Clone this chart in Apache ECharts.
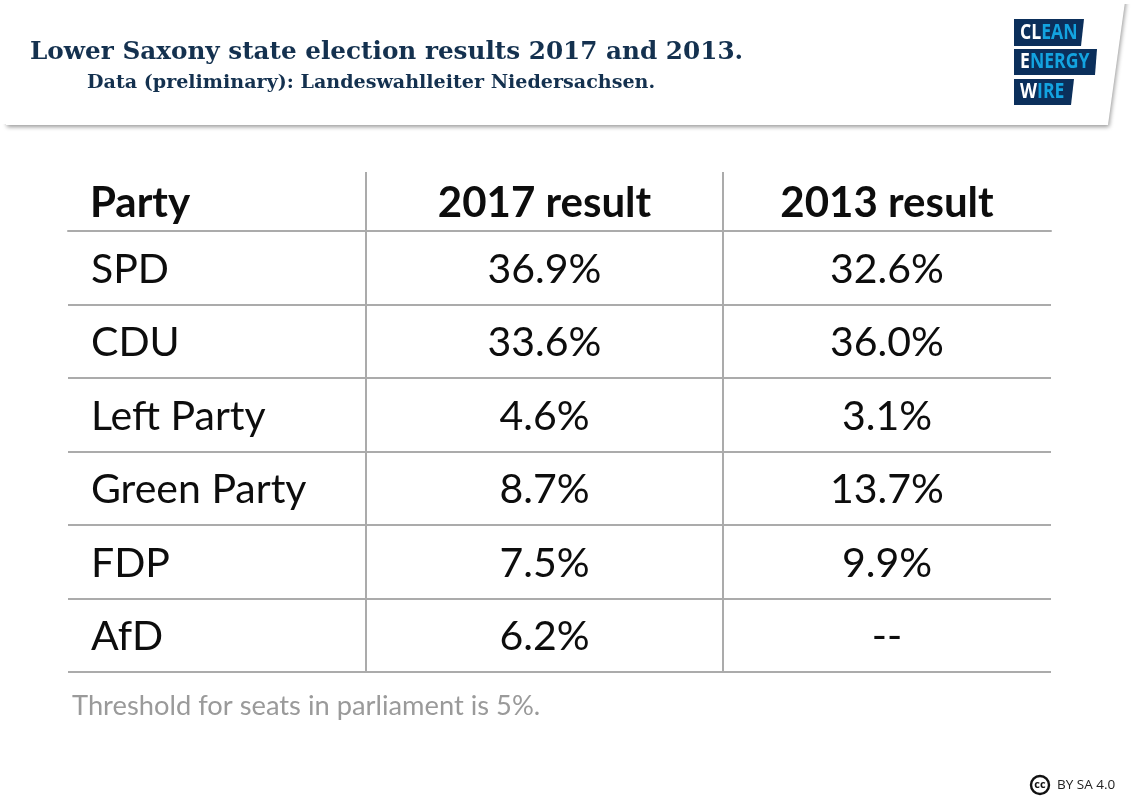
<!DOCTYPE html>
<html><head><meta charset="utf-8">
<style>html,body{margin:0;padding:0;background:#fff}#c{width:1132px;height:800px}</style>
<script src="https://cdn.jsdelivr.net/npm/echarts@6/dist/echarts.min.js"></script>
</head><body><div id="c"></div>
<script>
const titleText = 'Lower Saxony state election results 2017 and 2013.';
const subtitleText = 'Data (preliminary): Landeswahlleiter Niedersachsen.';
const noteText = 'Threshold for seats in parliament is 5%.';
const licenseText = 'BY SA 4.0';
const columns = ['Party', '2017 result', '2013 result'];
const parties = ['SPD', 'CDU', 'Left Party', 'Green Party', 'FDP', 'AfD'];
const results2017 = [36.9, 33.6, 4.6, 8.7, 7.5, 6.2];
const results2013 = [32.6, 36.0, 3.1, 13.7, 9.9, null];

const LINE = '#ababab', FONT = 'Lato', INK = '#0d0d0d';
const gridTop = 231, gridBottom = 800 - 672;
const colEdges = [68, 366, 723, 1051];
const grids = [0, 1, 2].map(i => ({left: colEdges[i], width: colEdges[i + 1] - colEdges[i], top: gridTop, bottom: gridBottom, outerBoundsMode: 'none'}));
const xAxes = columns.map((c, i) => ({
  gridIndex: i, type: 'category', position: 'top', data: [c],
  axisTick: {show: false}, axisLine: {show: true, lineStyle: {color: LINE, width: 2}},
  axisLabel: {
    color: INK, fontFamily: FONT, fontWeight: 'bold', fontSize: 42, margin: 7,
    ...(i === 0 ? {align: 'left', padding: [0, 0, 0, -127]} : {})
  }
}));
const yAxes = columns.map((c, i) => ({
  gridIndex: i, type: 'category', inverse: true, data: parties,
  axisTick: {show: false}, axisLine: {show: false}, axisLabel: {show: false},
  splitLine: {show: true, lineStyle: {color: LINE, width: 2}}
}));
const fmt = v => v == null ? '--' : v.toFixed(1) + '%';
const labelStyle = {show: true, color: INK, fontFamily: FONT, fontSize: 41, opacity: 1};
const series = [
  {type: 'scatter', xAxisIndex: 0, yAxisIndex: 0, symbolSize: 0, silent: true, itemStyle: {opacity: 1},
   data: parties.map(p => ({value: [columns[0], p], name: p})),
   label: {...labelStyle, position: 'inside', align: 'left', offset: [-126, 2], formatter: p => p.name}},
  {type: 'scatter', xAxisIndex: 1, yAxisIndex: 1, symbolSize: 0, silent: true, itemStyle: {opacity: 1},
   data: parties.map(p => ({value: [columns[1], p]})),
   label: {...labelStyle, position: 'inside', offset: [0, 2], formatter: p => fmt(results2017[p.dataIndex])}},
  {type: 'scatter', xAxisIndex: 2, yAxisIndex: 2, symbolSize: 0, silent: true, itemStyle: {opacity: 1},
   data: parties.map(p => ({value: [columns[2], p]})),
   label: {...labelStyle, position: 'inside', offset: [0, 2], formatter: p => fmt(results2013[p.dataIndex])}}
];
const vline = x => ({type: 'line', z: 5, shape: {x1: x, y1: 172, x2: x, y2: 672}, style: {stroke: LINE, lineWidth: 2}});
const logoBar = pts => ({type: 'polygon', z: 6, shape: {points: pts}, style: {fill: '#0b2f5b'}});
const logoFont = 'bold 21px "Open Sans"';
const logoRich = {
  w: {fill: '#fff', font: logoFont},
  b: {fill: '#13a3e0', font: logoFont}
};
const logoText = (y, a, b) => ({type: 'text', z: 7, x: 1020, y, scaleX: 0.84,
  style: {text: `{w|${a}}{b|${b}}`, rich: logoRich, textVerticalAlign: 'middle'}});
const chart = echarts.init(document.getElementById('c'), null, {renderer: 'canvas'});
chart.setOption({
  backgroundColor: '#fff', animation: false,
  grid: grids, xAxis: xAxes, yAxis: yAxes, series,
  graphic: {elements: [
    {type: 'polygon', z: 1, shape: {points: [[0, -20], [1128, -20], [1108, 125], [6, 125]]},
     style: {fill: '#fff', shadowColor: 'rgba(0,0,0,0.4)', shadowBlur: 4, shadowOffsetX: 1, shadowOffsetY: 2}},
    {type: 'rect', z: 2, shape: {x: 0, y: 0, width: 6, height: 124}, style: {fill: '#fff'}},
    {type: 'rect', z: 2, shape: {x: 0, y: 0, width: 1132, height: 4}, style: {fill: '#fff'}},
    {type: 'text', z: 6, x: 30, y: 53, style: {text: titleText, fill: '#14314f', font: 'bold 24.7px "DejaVu Serif"', textVerticalAlign: 'middle'}},
    {type: 'text', z: 6, x: 87, y: 83, style: {text: subtitleText, fill: '#14314f', font: 'bold 19.1px "DejaVu Serif"', textVerticalAlign: 'middle'}},
    logoBar([[1014, 19], [1084, 19], [1081, 46], [1014, 46]]),
    logoBar([[1014, 49], [1097, 49], [1095, 75], [1014, 75]]),
    logoBar([[1014, 79], [1074, 79], [1071, 105], [1014, 105]]),
    logoText(33, 'CL', 'EAN'),
    logoText(62, 'E', 'NERGY'),
    logoText(92, 'W', 'IRE'),
    vline(366), vline(723),
    {type: 'text', z: 6, x: 72, y: 706, style: {text: noteText, fill: '#9a9a9a', font: '27.3px Lato', textVerticalAlign: 'middle'}},
    {type: 'circle', z: 6, shape: {cx: 1040, cy: 785, r: 9}, style: {fill: '#fff', stroke: '#111', lineWidth: 2.4}},
    {type: 'text', z: 7, x: 1040, y: 785, style: {text: 'cc', fill: '#111', font: 'bold 11px "Open Sans"', textAlign: 'center', textVerticalAlign: 'middle'}},
    {type: 'text', z: 6, x: 1057, y: 785, style: {text: licenseText, fill: '#222', font: '13.5px "Open Sans"', textVerticalAlign: 'middle'}}
  ]}
});
</script></body></html>
